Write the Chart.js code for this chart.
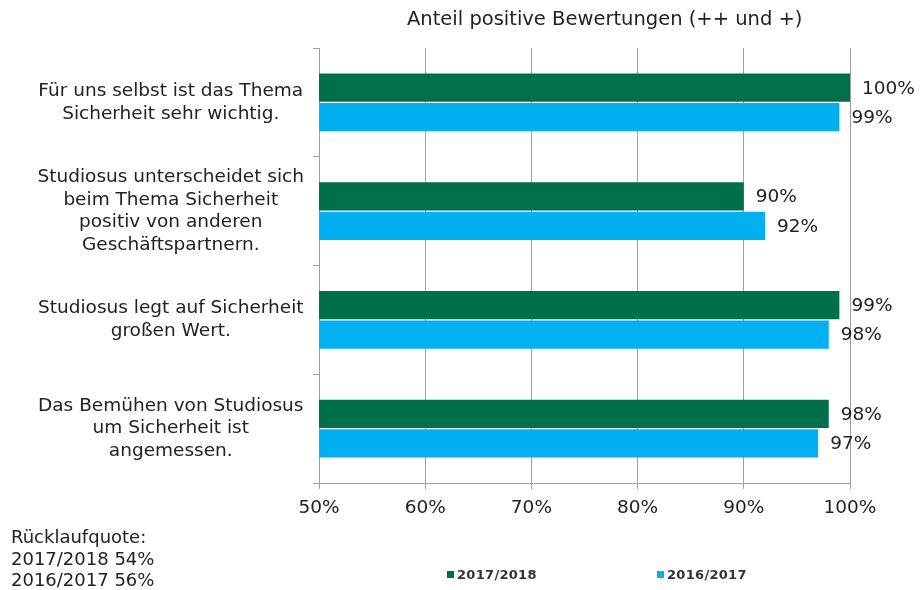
<!DOCTYPE html>
<html lang="de">
<head>
<meta charset="utf-8">
<script src="https://cdn.jsdelivr.net/npm/chart.js@4"></script>
<style>
    html, body { margin: 0; padding: 0; background: #fff; }
    #wrap { position: relative; width: 923px; height: 590px; font-family: "DejaVu Sans", Verdana, sans-serif; color: #222; }
    #chart { position: absolute; left: 0; top: 0; }
    #title { position: absolute; left: 407px; top: 7px; font-size: 19.5px; line-height: 24px; white-space: nowrap; }
    #note { position: absolute; left: 11px; top: 526px; font-size: 18px; line-height: 21.5px; }
    .leg { position: absolute; top: 566px; font-size: 13px; line-height: 17px; font-weight: bold; letter-spacing: 0.3px; color: #333; white-space: nowrap; }
    .leg span { display: inline-block; width: 7px; height: 7px; margin-right: 3px; vertical-align: 1px; }
</style>
</head>
<body>
<div id="wrap">
    <canvas id="chart" width="923" height="590"></canvas>
    <div id="title">Anteil positive Bewertungen (++ und +)</div>
    <div id="note">Rücklaufquote:<br>2017/2018 54%<br>2016/2017 56%</div>
    <div id="legend"></div>
</div>
<script>
const categories = [
    ['Für uns selbst ist das Thema', 'Sicherheit sehr wichtig.'],
    ['Studiosus unterscheidet sich', 'beim Thema Sicherheit', 'positiv von anderen', 'Geschäftspartnern.'],
    ['Studiosus legt auf Sicherheit', 'großen Wert.'],
    ['Das Bemühen von Studiosus', 'um Sicherheit ist', 'angemessen.']
];
const seriesNames = ['2017/2018', '2016/2017'];
const values2017 = [100, 90, 99, 98];
const values2016 = [99, 92, 98, 97];
const xTicks = [50, 60, 70, 80, 90, 100];

const colors = ['#00704A', '#00B0F0'];
const gridColor = '#a0a0a0';
const font = 'DejaVu Sans';

// value labels to the right of each bar
const valueLabels = {
    id: 'valueLabels',
    afterDatasetsDraw(chart) {
        const ctx = chart.ctx;
        ctx.save();
        ctx.font = '18.5px "' + font + '"';
        ctx.fillStyle = '#222';
        ctx.textAlign = 'left';
        ctx.textBaseline = 'middle';
        chart.data.datasets.forEach((ds, i) => {
            chart.getDatasetMeta(i).data.forEach((bar, j) => {
                ctx.fillText(ds.data[j] + '%', bar.x + 12, bar.y + 1);
            });
        });
        ctx.restore();
    }
};

const chart = new Chart(document.getElementById('chart'), {
    type: 'bar',
    data: {
        labels: categories,
        datasets: [
            { label: seriesNames[0], data: values2017, backgroundColor: colors[0] },
            { label: seriesNames[1], data: values2016, backgroundColor: colors[1] }
        ]
    },
    options: {
        indexAxis: 'y',
        responsive: false,
        animation: false,
        categoryPercentage: 0.54,
        barPercentage: 0.96,
        layout: { padding: { top: 48, right: 73, bottom: 0, left: 10 } },
        plugins: {
            legend: { display: false },
            tooltip: { enabled: false }
        },
        scales: {
            x: {
                min: 50,
                max: 100,
                afterBuildTicks: s => { s.ticks = xTicks.map(v => ({ value: v })); },
                afterFit: s => { s.height = 107; },
                grid: { color: gridColor, tickLength: 6, drawTicks: true },
                border: { color: gridColor },
                ticks: {
                    padding: 8,
                    color: '#222',
                    font: { family: font, size: 18.5 },
                    callback: v => v + '%'
                }
            },
            y: {
                afterFit: s => { s.width = 309; },
                grid: { drawOnChartArea: false, color: gridColor, tickLength: 6 },
                border: { color: gridColor },
                ticks: {
                    crossAlign: 'center',
                    padding: 9,
                    color: '#222',
                    font: { family: font, size: 18.5, lineHeight: 1.23 }
                }
            }
        }
    },
    plugins: [valueLabels]
});

// legend below the chart
const legendPos = [447, 657];
document.getElementById('legend').innerHTML = seriesNames.map((n, i) =>
    '<div class="leg" style="left:' + legendPos[i] + 'px"><span style="background:' + colors[i] + '"></span>' + n + '</div>'
).join('');
</script>
</body>
</html>
